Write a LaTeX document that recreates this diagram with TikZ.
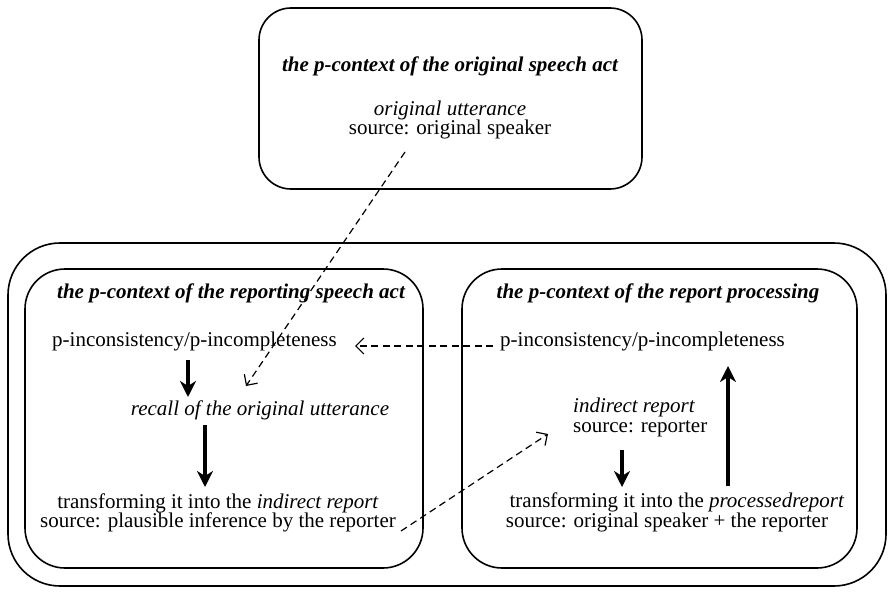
\documentclass[tikz,border=0pt]{standalone}
\usepackage{fontspec}
\setmainfont{Liberation Serif}
\usetikzlibrary{arrows.meta}
\begin{document}
\begin{tikzpicture}[x=1pt,y=-1pt,
  frame/.style={draw, line width=1.6pt, rounded corners=#1},
  txt/.style={font=\fontsize{21}{20}\selectfont, inner sep=0pt, anchor=base},
  ttl/.style={txt, font=\fontsize{21}{20}\selectfont\bfseries\itshape},
  flow/.style={line width=3.6pt, -{Stealth[length=16pt,width=16pt,inset=5pt]}},
  hint/.style={line width=1.2pt, dash pattern=on 7pt off 4.5pt,
    -{Straight Barb[length=8pt,width=16pt]}}]
\useasboundingbox (0,0) rectangle (893,591);

% frames
\draw[frame=32pt] (259,8) rectangle (642,189);
\draw[frame=52pt] (8,243) rectangle (886,586);
\draw[frame=40pt] (25,269) rectangle (423,568);
\draw[frame=40pt] (462,269) rectangle (857,568);

% original speech act
\node[ttl] (t0) at (450,72) {the p-context of the original speech act};
\node[txt, font=\fontsize{21}{20}\selectfont\itshape] (ou) at (450,116) {original utterance};
\node[txt] (os) at (450,135) {source: original speaker};

% reporting speech act
\node[ttl] (t1) at (231,298) {the p-context of the reporting speech act};
\node[txt, anchor=base west] (lpi) at (52,346) {p-inconsistency/p-incompleteness};
\node[txt, font=\fontsize{21}{20}\selectfont\itshape] (rec) at (260,415) {recall of the original utterance};
\node[txt] (ltr) at (218,508) {transforming it into the \textit{indirect report}};
\node[txt] (lsrc) at (218,527) {source: plausible inference by the reporter};

% report processing
\node[ttl] (t2) at (658,298) {the p-context of the report processing};
\node[txt, anchor=base west] (rpi) at (500,346) {p-inconsistency/p-incompleteness};
\node[txt, anchor=base west, font=\fontsize{21}{20}\selectfont\itshape] (ir) at (573,412) {indirect report};
\node[txt, anchor=base west] (irs) at (573,432) {source: reporter};
\node[txt] (rtr) at (677,507) {transforming it into the \textit{processedreport}};
\node[txt] (rsrc) at (667,527) {source: original speaker + the reporter};

% connector end points
\coordinate (a1s) at (188,360);  \coordinate (a1e) at (188,397);
\coordinate (a2s) at (205,425);  \coordinate (a2e) at (205,487);
\coordinate (a3s) at (622,450);  \coordinate (a3e) at (622,487);
\coordinate (a4s) at (728,486);  \coordinate (a4e) at (728,366);
\coordinate (d1s) at (405,152);  \coordinate (d1e) at (246,386);
\coordinate (d2s) at (493,346);  \coordinate (d2e) at (355,346);
\coordinate (d3s) at (401,531);  \coordinate (d3e) at (548,434);

% process steps
\draw[flow] (a1s) -- (a1e);
\draw[flow] (a2s) -- (a2e);
\draw[flow] (a3s) -- (a3e);
\draw[flow] (a4s) -- (a4e);

% links between contexts
\draw[hint] (d1s) -- (d1e);
\draw[hint] (d2s) -- (d2e);
\draw[hint] (d3s) -- (d3e);
\end{tikzpicture}
\end{document}
